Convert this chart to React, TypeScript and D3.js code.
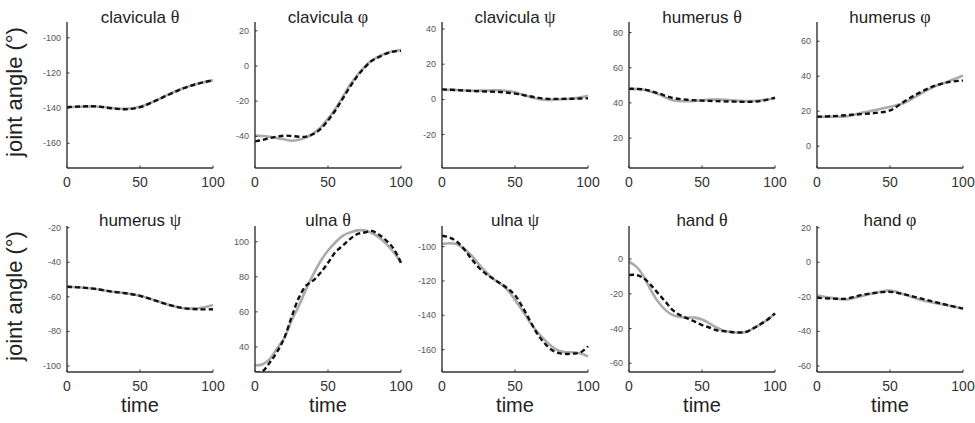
import React from "react";
import * as d3 from "d3";

const names = ["clavicula", "clavicula", "clavicula", "humerus", "humerus", "humerus", "ulna", "ulna", "hand", "hand"];
const angles = ["θ", "φ", "ψ", "θ", "φ", "ψ", "θ", "ψ", "θ", "φ"];
const xTicks = [0, 50, 100];

const yDomains: number[][] = [
  [-174, -91],
  [-58, 25],
  [-39, 44],
  [3, 86],
  [-12.5, 71],
  [-103.5, -19],
  [25.7, 109],
  [-173, -88],
  [-65, 19],
  [-63.5, 21],
];

const yTicks: number[][] = [
  [-160, -140, -120, -100],
  [-40, -20, 0, 20],
  [-20, 0, 20, 40],
  [20, 40, 60, 80],
  [0, 20, 40, 60],
  [-100, -80, -60, -40, -20],
  [40, 60, 80, 100],
  [-160, -140, -120, -100],
  [-60, -40, -20, 0],
  [-60, -40, -20, 0, 20],
];

// grey solid curves
const clavThetaModel = [-139.4, -139.2, -139, -139.8, -140.4, -139.2, -136, -132, -128.5, -126, -124.2];
const clavPhiModel = [-39.6, -39.8, -40.2, -41, -41.7, -42.5, -42, -40.6, -38.3, -34.9, -30, -24.4, -17.7, -11, -5.3, -0.6, 3.2, 5.5, 7.4, 8.4, 9];
const clavPsiModel = [5.5, 5.3, 5, 5, 5.2, 4, 1.5, -0.2, 0, 0.5, 2];
const humThetaModel = [48, 47.5, 45, 41.5, 41, 41.5, 42, 41.5, 41, 41.5, 42.5];
const humPhiModel = [16.8, 16.8, 17, 19, 20.6, 22.5, 24.8, 29.5, 33.9, 37, 40.4];
const humPsiModel = [-54.2, -54.6, -55.5, -56.9, -57.9, -59.4, -62, -64.7, -66.6, -66.6, -64.7];
const ulnaThetaModel = [29.5, 30, 33, 39, 45, 55, 63.4, 73, 81.5, 89, 95, 99.6, 103.4, 105.3, 106.5, 106.5, 105, 102.5, 98.7, 94, 88];
const ulnaPsiModel = [-98.5, -98, -98.5, -101.3, -105, -110, -114.8, -118.7, -121.5, -125.4, -131, -137, -143.7, -149.4, -154, -158, -160.6, -161.5, -161.5, -162.3, -164];
const handThetaModel = [-1.5, -4.4, -10, -18, -24.6, -29.4, -32.3, -33.3, -33.7, -33.7, -34.8, -37, -39.4, -41.3, -42, -42.3, -42, -40, -37.5, -34.8, -31.3];
const handPhiModel = [-19.2, -20.6, -21.5, -19.6, -17.7, -16.4, -18.7, -21.5, -23.4, -25, -26.7];

// black dashed curves
const clavThetaSubject = [-139.4, -139, -139, -140, -140.6, -139.4, -136, -132.2, -128.6, -126, -124];
const clavPhiSubject = [-42.9, -42, -41, -40.2, -39.6, -39.8, -40.2, -40.2, -38.7, -35.8, -31, -25.3, -18.7, -12, -5.9, -1, 2.9, 5.1, 7, 8.2, 8.6];
const clavPsiSubject = [5.7, 5.3, 4.8, 4.5, 4.2, 3.3, 1.8, 0.5, 0.3, 0.4, 0.6];
const humThetaSubject = [48, 47.7, 45.5, 42.8, 41.8, 41.3, 41, 40.8, 40.6, 41, 43];
const humPhiSubject = [16.8, 17.1, 17.7, 18.3, 19, 20.4, 25.7, 30.5, 34.3, 36.6, 37.5];
const humPsiSubject = [-54.2, -54.6, -55.5, -56.9, -57.9, -59.4, -62, -64.7, -66.6, -67.2, -67.2];
const ulnaThetaSubject = [25.5, 26, 31, 37, 45, 57, 68, 75, 78, 82.5, 88, 94, 97.7, 101.5, 104.4, 105.3, 106.2, 104, 100.6, 96, 88];
const ulnaPsiSubject = [-93.7, -94.6, -97, -101.3, -107, -112, -115.8, -118.7, -121.5, -124.4, -128.3, -135, -142.7, -150.4, -156, -160, -162, -162.5, -162.3, -161.5, -158];
const handThetaSubject = [-9.2, -9.2, -11, -15, -19.8, -24.6, -29.4, -32.3, -34.2, -36, -38, -39.4, -41, -41.5, -42, -42.3, -42, -40, -37.5, -34.8, -31.3];
const handPhiSubject = [-20.6, -21, -21, -19, -17.7, -17.1, -18.6, -20.7, -22.8, -24.9, -26.8];

const modelSeries = [clavThetaModel, clavPhiModel, clavPsiModel, humThetaModel, humPhiModel, humPsiModel, ulnaThetaModel, ulnaPsiModel, handThetaModel, handPhiModel];
const subjectSeries = [clavThetaSubject, clavPhiSubject, clavPsiSubject, humThetaSubject, humPhiSubject, humPsiSubject, ulnaThetaSubject, ulnaPsiSubject, handThetaSubject, handPhiSubject];

const COLX = [67, 255, 442, 629, 817];
const ROWY = [22, 226];
const W = 146;
const H = 146;
const SANS = "'Liberation Sans', Arial, sans-serif";
const SERIF = "'Liberation Serif', 'Times New Roman', serif";

function Panel({ i }: { i: number }) {
  const col = i % 5;
  const row = Math.floor(i / 5);
  const x0 = COLX[col];
  const y0 = ROWY[row];
  const x = d3.scaleLinear().domain([0, 100]).range([0, W]);
  const y = d3.scaleLinear().domain(yDomains[i]).range([H, 0]);
  const toPts = (arr: number[]) => arr.map((v, k) => [(k * 100) / (arr.length - 1), v] as [number, number]);
  const line = d3
    .line<[number, number]>()
    .x((d) => x(d[0]))
    .y((d) => y(d[1]))
    .curve(d3.curveCatmullRom.alpha(0.5));
  const clipId = `clip${i}`;
  return (
    <g transform={`translate(${x0},${y0})`}>
      <defs>
        <clipPath id={clipId}>
          <rect x={0} y={-2} width={W + 2} height={H + 2} />
        </clipPath>
      </defs>
      <text
        x={W / 2}
        y={row === 0 ? 1 : 0}
        textAnchor="middle"
        fontFamily={SANS}
        fontSize={17}
        fill="#222"
      >
        {names[i]} <tspan fontFamily={SERIF} fontSize={18}>{angles[i]}</tspan>
      </text>
      <g clipPath={`url(#${clipId})`}>
        <path d={line(toPts(modelSeries[i])) || ""} fill="none" stroke="#ababab" strokeWidth={2.6} />
        <path
          d={line(toPts(subjectSeries[i])) || ""}
          fill="none"
          stroke="#111"
          strokeWidth={2.4}
          strokeDasharray="5,3"
        />
      </g>
      {/* axes */}
      <line x1={0} x2={0} y1={0} y2={H} stroke="#333" strokeWidth={1.4} />
      <line x1={0} x2={W} y1={H} y2={H} stroke="#333" strokeWidth={1.4} />
      {yTicks[i].map((t) => (
        <g key={t}>
          <line x1={0} x2={2.5} y1={y(t)} y2={y(t)} stroke="#333" strokeWidth={1} />
          <text
            x={-6}
            y={y(t)}
            dy="0.33em"
            textAnchor="end"
            fontFamily={SANS}
            fontSize={9}
            fill="#555"
          >
            {t}
          </text>
        </g>
      ))}
      {xTicks.map((t) => (
        <g key={t}>
          <line x1={x(t)} x2={x(t)} y1={H} y2={H - 2.5} stroke="#333" strokeWidth={1} />
          <text
            x={x(t)}
            y={H + 19}
            textAnchor="middle"
            fontFamily={SANS}
            fontSize={14}
            fill="#333"
          >
            {t}
          </text>
        </g>
      ))}
      {row === 1 && (
        <text x={W / 2} y={H + 40} textAnchor="middle" fontFamily={SANS} fontSize={20} fill="#222">
          time
        </text>
      )}
      {col === 0 && (
        <text
          transform={`translate(${-45},${H / 2 - 3}) rotate(-90)`}
          textAnchor="middle"
          fontFamily={SANS}
          fontSize={22}
          fill="#222"
        >
          joint angle (°)
        </text>
      )}
    </g>
  );
}

export default function App() {
  return (
    <div style={{ position: "absolute", left: 0, top: 0 }}>
      <svg width={975} height={423} style={{ display: "block", background: "#fff" }}>
        <rect width={975} height={423} fill="#fff" />
        {names.map((_, i) => (
          <Panel key={i} i={i} />
        ))}
      </svg>
    </div>
  );
}
